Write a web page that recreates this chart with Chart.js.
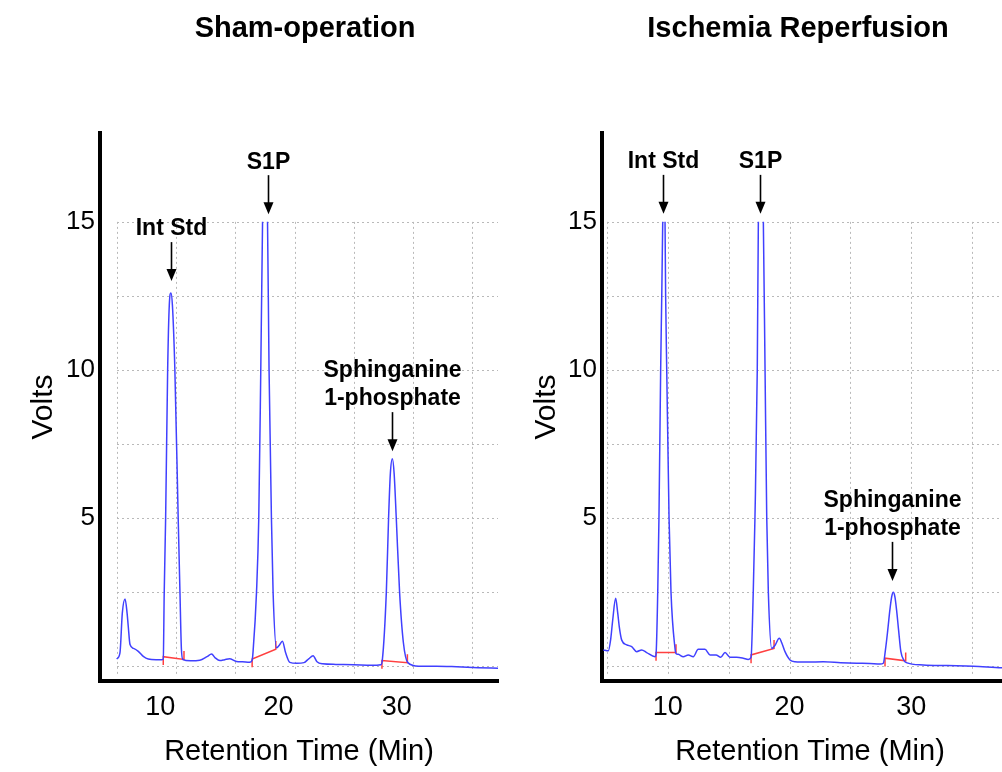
<!DOCTYPE html>
<html lang="en">
<head>
<meta charset="UTF-8">
<title>S1P chromatograms</title>
<script src="https://cdn.jsdelivr.net/npm/chart.js"></script>
<style>
  body { margin: 0; background: #fff; overflow: hidden; }
  #wrap { position: relative; width: 1002px; height: 772px; overflow: hidden; }
  .panel { position: absolute; top: 0; }
  .title {
    position: absolute; top: 10px; width: 400px; text-align: center;
    font: bold 29px 'Liberation Sans', Arial, sans-serif; line-height: 34px; color: #000;
  }
</style>
</head>
<body>
<div id="wrap">
  <canvas class="panel" id="sham" width="501" height="772" style="left:0"></canvas>
  <canvas class="panel" id="ir" width="520" height="772" style="left:501px"></canvas>
  <div class="title" style="left:105px">Sham-operation</div>
  <div class="title" style="left:598px">Ischemia Reperfusion</div>
</div>

<script>
const FONT = "'Liberation Sans', Arial, sans-serif";

// retention time (min) and detector signal (V)
const shamTime = [4.97, 5.25, 5.45, 5.68, 5.85, 5.95, 6.1, 6.4, 6.8, 7.22, 7.64, 8.3, 8.77,
  8.91, 8.99, 9.11, 9.28, 9.42, 9.56, 9.68, 9.89, 10.17, 10.32, 10.44, 10.57,
  11.2, 12.0, 12.6, 12.99, 13.3, 13.7, 14.1, 14.5, 15.1, 15.6, 16.2,
  16.42, 16.5, 16.79, 16.98, 17.15, 17.3, 17.5, 17.72, 17.85, 18.05, 18.19, 18.48,
  18.7, 18.98, 19.25, 19.6, 20.2, 20.8, 21.2, 21.57, 21.9, 22.38, 23.5, 25.0, 26.5, 27.3,
  27.42, 27.76, 27.95, 28.1, 28.27, 28.42, 28.6, 28.88, 29.2, 29.58,
  30.5, 32.0, 33.7, 35.5, 37.2];
const shamVolts = [0.24, 0.45, 1.8, 2.27, 1.8, 1.35, 0.73, 0.6, 0.5, 0.33, 0.24, 0.22, 0.22,
  0.25, 2.5, 5.0, 10.0, 12.2, 12.6, 12.2, 10.0, 5.0, 2.5, 0.6, 0.22,
  0.18, 0.2, 0.32, 0.41, 0.28, 0.19, 0.22, 0.25, 0.16, 0.15, 0.13,
  0.2, 0.5, 2.5, 5.0, 10.0, 15.0, 19.0, 15.0, 10.0, 5.0, 2.5, 0.62,
  0.7, 0.84, 0.45, 0.13, 0.1, 0.12, 0.25, 0.35, 0.15, 0.08, 0.06, 0.05, 0.03, 0.05,
  0.2, 2.5, 5.0, 6.5, 7.0, 6.5, 5.0, 2.5, 0.8, 0.12,
  0.0, 0.0, -0.02, -0.05, -0.07];

const irTime = [4.7, 5.11, 5.3, 5.47, 5.71, 5.88, 6.01, 6.21, 6.62, 7.03, 7.44, 7.85, 8.26, 8.95,
  9.03, 9.17, 9.27, 9.41, 9.5, 9.58, 9.68, 9.77, 9.82, 9.91, 10.1, 10.26, 10.59, 10.67,
  10.86, 11.27, 11.68, 12.09, 12.5, 13.05, 13.47, 13.96, 14.35, 14.7, 15.11, 15.66, 16.2, 16.61,
  16.84, 17.02, 17.16, 17.35, 17.44, 17.65, 17.85, 17.99, 18.13, 18.26, 18.54,
  18.8, 19.16, 19.4, 19.63, 20.04, 20.45, 21.5, 22.78, 24.2, 25.52, 26.6, 27.44,
  27.71, 27.9, 28.07, 28.25, 28.4, 28.53, 28.66, 28.8, 28.97, 29.15, 29.4, 29.6,
  30.99, 33.0, 35.1, 37.44, 38.8];
const irVolts = [0.55, 0.52, 0.9, 1.56, 2.29, 1.8, 1.33, 0.88, 0.72, 0.66, 0.49, 0.55, 0.46, 0.32,
  0.4, 2.5, 5.0, 10.0, 12.5, 15.0, 18.0, 15.0, 12.5, 10.0, 5.0, 2.5, 0.6, 0.43,
  0.4, 0.32, 0.38, 0.32, 0.57, 0.57, 0.38, 0.38, 0.3, 0.46, 0.3, 0.3, 0.27, 0.23,
  0.3, 2.5, 5.0, 10.0, 15.0, 19.0, 15.0, 10.0, 5.0, 2.5, 0.6,
  0.7, 0.94, 0.75, 0.49, 0.21, 0.15, 0.14, 0.15, 0.12, 0.1, 0.09, 0.07,
  0.1, 0.6, 1.2, 1.9, 2.35, 2.5, 2.35, 1.9, 1.2, 0.5, 0.2, 0.12,
  0.04, 0.02, 0.0, -0.05, -0.06];

// integration baselines (red), [time, volts] at start and end of each peak
const shamBaseStart = [[8.91, 0.32], [16.42, 0.24], [27.39, 0.19]];
const shamBaseEnd = [[10.66, 0.23], [18.42, 0.57], [29.54, 0.12]];
const irBaseStart = [[9.03, 0.46], [16.84, 0.38], [27.85, 0.27]];
const irBaseEnd = [[10.67, 0.46], [18.73, 0.6], [29.55, 0.18]];

// peak labels: where the arrow points
const peakNames = [['Int Std'], ['S1P'], ['Sphinganine', '1-phosphate']];
const shamPeakTime = [9.56, 17.76, 28.24];
const shamPeakTop = [13.0, 15.26, 7.26];
const irPeakTime = [9.6, 17.57, 28.42];
const irPeakTop = [15.27, 15.27, 2.88];

const xTickLabels = [10, 20, 30];
const yTickLabels = [5, 10, 15];
const xGrid = [5, 10, 15, 20, 25, 30, 35];
const yGrid = [0, 2.5, 5, 7.5, 10, 12.5, 15];
const FULL_SCALE = 15;   // trace is cut off at the detector range
const TICK = 0.28;       // height of the baseline end marks, in volts

// dotted grid of the recorder, clipping at full scale, arrows with labels
const chromPlugin = {
    id: 'chrom',
    beforeDatasetsDraw(chart) {
        const {ctx, chartArea: a, scales: {x, y}} = chart;
        const top = y.getPixelForValue(FULL_SCALE);
        const bot = y.getPixelForValue(-0.3);
        const x0 = x.getPixelForValue(xGrid[0]);
        ctx.save();
        ctx.strokeStyle = '#b9b9b9';
        ctx.lineWidth = 1;
        ctx.setLineDash([2, 3]);
        ctx.beginPath();
        yGrid.forEach(v => {
            const py = Math.round(y.getPixelForValue(v)) + 0.5;
            ctx.moveTo(x0, py);
            ctx.lineTo(a.right, py);
        });
        xGrid.forEach(v => {
            const px = Math.round(x.getPixelForValue(v)) + 0.5;
            ctx.moveTo(px, top);
            ctx.lineTo(px, bot);
        });
        ctx.stroke();
        ctx.restore();

        ctx.save();
        ctx.beginPath();
        ctx.rect(a.left, top, a.right - a.left, a.bottom - top);
        ctx.clip();
    },
    afterDatasetsDraw(chart, args, opts) {
        const {ctx, scales: {x, y}} = chart;
        ctx.restore();
        ctx.save();
        ctx.fillStyle = '#000';
        ctx.strokeStyle = '#000';
        ctx.lineWidth = 1.6;
        ctx.font = 'bold 23px ' + FONT;
        ctx.textAlign = 'center';
        ctx.textBaseline = 'middle';
        opts.times.forEach((t, i) => {
            const px = Math.round(x.getPixelForValue(t)) + 0.5;
            const tip = y.getPixelForValue(opts.tops[i]);
            ctx.beginPath();
            ctx.moveTo(px, tip - 39);
            ctx.lineTo(px, tip - 10);
            ctx.stroke();
            ctx.beginPath();
            ctx.moveTo(px, tip);
            ctx.lineTo(px - 5, tip - 12);
            ctx.lineTo(px + 5, tip - 12);
            ctx.closePath();
            ctx.fill();
            const lines = peakNames[i];
            lines.forEach((s, j) => {
                ctx.fillText(s, px, tip - 52 - (lines.length - 1 - j) * 28);
            });
        });
        ctx.restore();
    }
};

function makePanel(id, time, volts, baseStart, baseEnd, peakTime, peakTop, opt) {
    const datasets = [{
        data: time.map((t, i) => ({x: t, y: volts[i]})),
        borderColor: '#4040ff',
        borderWidth: 1.5,
        pointRadius: 0,
        cubicInterpolationMode: 'monotone'
    }];
    baseStart.forEach((s, i) => {
        const e = baseEnd[i];
        datasets.push({
            data: [
                {x: s[0], y: s[1] - TICK}, {x: s[0], y: s[1]},
                {x: e[0], y: e[1]}, {x: e[0], y: e[1] + TICK}
            ],
            borderColor: '#ff4040',
            borderWidth: 1.5,
            pointRadius: 0
        });
    });

    return new Chart(document.getElementById(id), {
        type: 'line',
        data: {datasets},
        options: {
            responsive: false,
            animation: false,
            events: [],
            layout: {padding: {top: 133, left: 0, right: 3, bottom: 0}},
            plugins: {
                legend: {display: false},
                tooltip: {enabled: false},
                chrom: {times: peakTime, tops: peakTop}
            },
            scales: {
                x: {
                    type: 'linear',
                    min: opt.xMin,
                    max: opt.xMax,
                    afterBuildTicks: s => { s.ticks = xTickLabels.map(v => ({value: v})); },
                    afterFit: s => { s.height = 91; },
                    grid: {display: false, drawTicks: false},
                    border: {display: true, color: '#000', width: 4},
                    ticks: {color: '#000', font: {family: FONT, size: 27}, padding: 10,
                        labelOffset: opt.labelShift, maxRotation: 0},
                    title: {display: true, text: 'Retention Time (Min)', color: '#000',
                        font: {family: FONT, size: 29}, padding: {top: 0, bottom: 3}}
                },
                y: {
                    type: 'linear',
                    min: -0.5,
                    max: 18,
                    afterBuildTicks: s => { s.ticks = yTickLabels.map(v => ({value: v})); },
                    afterFit: s => { s.width = opt.areaLeft; },
                    grid: {display: false, drawTicks: false},
                    border: {display: true, color: '#000', width: 4},
                    ticks: {color: '#000', font: {family: FONT, size: 26}, padding: 5},
                    title: {display: true, text: 'Volts', color: '#000',
                        font: {family: FONT, size: 30}, padding: {top: opt.voltsPad, bottom: 0}}
                }
            }
        },
        plugins: [chromPlugin]
    });
}

makePanel('sham', shamTime, shamVolts, shamBaseStart, shamBaseEnd, shamPeakTime, shamPeakTop,
    {xMin: 3.563, xMax: 37.197, areaLeft: 100, labelShift: -16, voltsPad: 26});
makePanel('ir', irTime, irVolts, irBaseStart, irBaseEnd, irPeakTime, irPeakTop,
    {xMin: 4.589, xMax: 38.78, areaLeft: 101, labelShift: 0, voltsPad: 28});
</script>
</body>
</html>
